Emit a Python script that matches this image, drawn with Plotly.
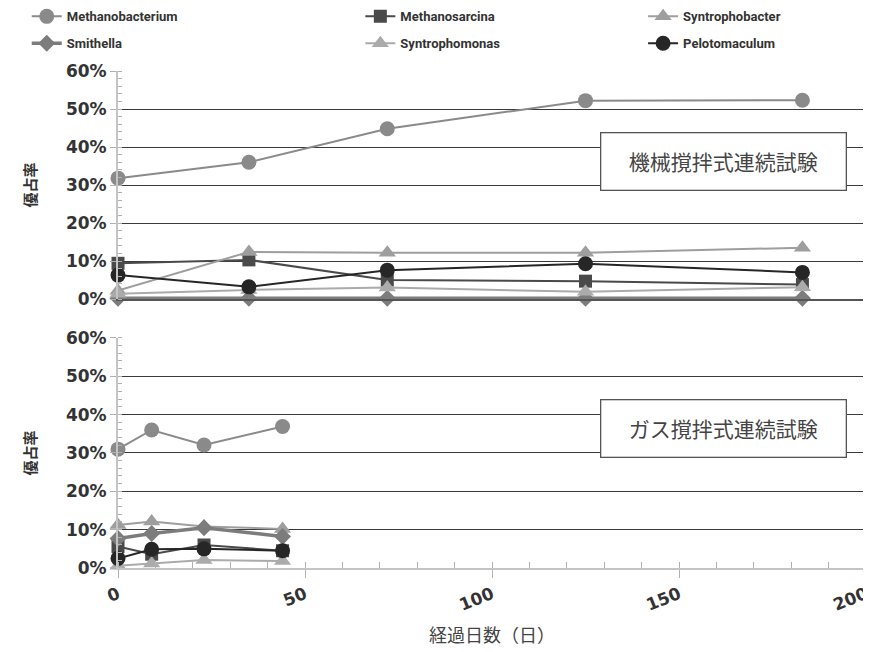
import plotly.graph_objects as go
from plotly.subplots import make_subplots

# ---- data ----
days_mech = [0, 35, 72, 125, 183]
days_gas = [0, 9, 23, 44]

series_names = ["Methanobacterium", "Methanosarcina", "Syntrophobacter",
                "Smithella", "Syntrophomonas", "Pelotomaculum"]

mech_methanobacterium = [31.8, 36.0, 44.8, 52.2, 52.3]
mech_methanosarcina = [9.4, 10.3, 5.0, 4.7, 3.8]
mech_syntrophobacter = [2.2, 12.4, 12.2, 12.2, 13.5]
mech_smithella = [0.2, 0.2, 0.2, 0.2, 0.2]
mech_syntrophomonas = [1.4, 2.4, 3.0, 1.9, 3.1]
mech_pelotomaculum = [6.3, 3.2, 7.6, 9.3, 7.0]

gas_methanobacterium = [31.0, 36.0, 32.1, 36.9]
gas_methanosarcina = [5.6, 3.6, 6.0, 4.5]
gas_syntrophobacter = [11.2, 12.1, 10.8, 10.2]
gas_smithella = [7.7, 9.0, 10.5, 8.2]
gas_syntrophomonas = [0.6, 1.2, 2.1, 1.8]
gas_pelotomaculum = [2.5, 4.9, 5.0, 4.5]

y_ticks = [0, 10, 20, 30, 40, 50, 60]
x_ticks = [0, 50, 100, 150, 200]
panel_labels = ["機械撹拌式連続試験", "ガス撹拌式連続試験"]
y_title = "優占率"
x_title = "経過日数（日）"

mech = [mech_methanobacterium, mech_methanosarcina, mech_syntrophobacter,
        mech_smithella, mech_syntrophomonas, mech_pelotomaculum]
gas = [gas_methanobacterium, gas_methanosarcina, gas_syntrophobacter,
       gas_smithella, gas_syntrophomonas, gas_pelotomaculum]

# ---- styles ----
colors = ["#8a8a8a", "#4a4a4a", "#9e9e9e", "#7c7c7c", "#ababab", "#262626"]
symbols = ["circle", "square", "triangle-up", "diamond", "triangle-up", "circle"]
sizes = [15, 13, 15, 13, 15, 15]
widths = [2, 2, 2, 3.5, 2, 2]
legend_ids = ["legend", "legend2", "legend3", "legend", "legend2", "legend3"]

fig = make_subplots(rows=2, cols=1, shared_xaxes=False, vertical_spacing=0.0)

for i, name in enumerate(series_names):
    for r, (xs, ys) in enumerate([(days_mech, mech[i]), (days_gas, gas[i])], start=1):
        fig.add_trace(go.Scatter(
            x=xs, y=ys, name=name, mode="lines+markers",
            line=dict(color=colors[i], width=widths[i]),
            marker=dict(symbol=symbols[i], size=sizes[i], color=colors[i]),
            cliponaxis=False, showlegend=(r == 1),
            legend=legend_ids[i], legendgroup=name,
        ), row=r, col=1)

tick_font = dict(family="DejaVu Sans", size=17, color="#333333", weight="bold")

# y-axes
for r, dom in [(1, [0.5412, 1.0]), (2, [0.0, 0.4628])]:
    fig.update_yaxes(
        row=r, col=1, domain=dom, range=[0, 60], tickvals=y_ticks,
        ticktext=[f"{v}%" for v in y_ticks], tickfont=tick_font,
        showgrid=True, gridcolor="#3a3a3a", gridwidth=1.3, zeroline=False,
        showline=True, linecolor="#c4c4c4", linewidth=2,
        ticks="outside", ticklen=6, tickcolor="#b0b0b0",
        minor=dict(dtick=2, ticks="inside", ticklen=4, tickcolor="#b0b0b0", showgrid=False),
        title=dict(text=y_title, font=dict(family="Noto Sans CJK JP", size=15,
                   color="#333333", weight="bold"), standoff=26),
    )

fig.update_xaxes(row=1, col=1, range=[0, 200], showticklabels=False, showgrid=False,
                 zeroline=False, showline=True, linecolor="#555555", linewidth=1.5,
                 ticks="")
fig.update_xaxes(row=2, col=1, range=[0, 200], tickvals=x_ticks, tickfont=tick_font,
                 tickangle=-22, showgrid=False, zeroline=False, showline=True,
                 linecolor="#c4c4c4", linewidth=2, ticks="outside", ticklen=8,
                 tickcolor="#b0b0b0",
                 minor=dict(dtick=10, ticks="inside", ticklen=6, tickcolor="#b0b0b0"),
                 title=dict(text=x_title, font=dict(family="Noto Sans CJK JP", size=18,
                            color="#444444"), standoff=16))

# right borders
for yref in ["y domain", "y2 domain"]:
    xr = "x domain" if yref == "y domain" else "x2 domain"
    fig.add_shape(type="line", xref=xr, yref=yref, x0=1, x1=1, y0=0, y1=1,
                  line=dict(color="#555555", width=1.5))

# panel labels
for yref, lab in [("y domain", panel_labels[0]), ("y2 domain", panel_labels[1])]:
    xr = "x domain" if yref == "y domain" else "x2 domain"
    fig.add_annotation(xref=xr, yref=yref, x=0.81, y=0.605, text=lab, showarrow=False,
                       xanchor="center", yanchor="middle",
                       font=dict(family="Noto Sans CJK JP", size=21, color="#444444"),
                       bgcolor="white", bordercolor="#555555", borderwidth=1.3,
                       width=238, height=50, borderpad=3)

legend_font = dict(family="Roboto", size=13, color="#333333", weight="bold")
common_leg = dict(orientation="v", yanchor="top", xanchor="left", font=legend_font,
                  bgcolor="rgba(0,0,0,0)", tracegroupgap=7, itemwidth=30)
# page body has an 8px margin, so the figure is 8px smaller and offset accordingly
fig.update_layout(
    width=863, height=644,
    margin=dict(l=110, r=5, t=63, b=84, autoexpand=False),
    plot_bgcolor="white", paper_bgcolor="white",
    legend=dict(x=-0.122, y=1.14, **common_leg),
    legend2=dict(x=0.324, y=1.14, **common_leg),
    legend3=dict(x=0.702, y=1.14, **common_leg),
)

fig.write_html("out.html")
